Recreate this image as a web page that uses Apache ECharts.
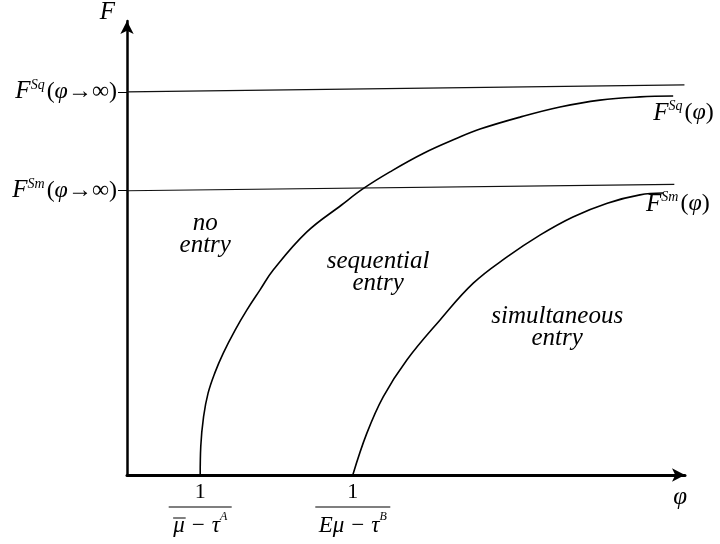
<!DOCTYPE html>
<html>
<head>
<meta charset="utf-8">
<script src="https://cdn.jsdelivr.net/npm/echarts@6/dist/echarts.min.js"></script>
<style>
  html, body { margin: 0; padding: 0; background: #fff; }
  #main { width: 720px; height: 544px; }
</style>
</head>
<body>
<div id="main"></div>
<script>
// values, in axis units (phi along x, F up)
var xTicks = [1.30, 4.01];            // 1/(mu-tau^A), 1/(E mu - tau^B)
var yTicks = [8.33, 6.18];            // F^Sq(phi->inf), F^Sm(phi->inf)
var yTickNames = ['Sq', 'Sm'];
var xTickDen = [['μ', 'A'], ['Eμ', 'B']];

var sqCurve = [
  [1.30, 0], [1.31, 0.62], [1.36, 1.27], [1.44, 1.78], [1.56, 2.22], [1.71, 2.65],
  [1.92, 3.15], [2.13, 3.59], [2.36, 4.02], [2.60, 4.46], [3.19, 5.28], [3.81, 5.87],
  [4.20, 6.23], [4.67, 6.59], [5.26, 6.99], [5.86, 7.32], [6.27, 7.52], [6.98, 7.78],
  [7.69, 8.00], [8.40, 8.15], [9.11, 8.22], [9.70, 8.24]
];
var smCurve = [
  [4.01, 0], [4.26, 0.91], [4.55, 1.70], [4.97, 2.50], [5.56, 3.37], [6.15, 4.17],
  [6.75, 4.74], [7.34, 5.22], [7.92, 5.61], [8.53, 5.91], [9.11, 6.09], [9.52, 6.13]
];
var sqLimit = [[0, 8.33], [9.90, 8.48]];
var smLimit = [[0, 6.18], [9.72, 6.32]];

var regions = [
  [1.39, 5.24, 'no\nentry'],
  [4.46, 4.41, 'sequential\nentry'],
  [7.64, 3.20, 'simultaneous\nentry']
];

var serif = '"Liberation Serif", "DejaVu Serif", serif';

// nearest tick index for a value (customValues formatter)
function tickIndex(list, v) {
  var best = 0;
  for (var k = 1; k < list.length; k++) {
    if (Math.abs(list[k] - v) < Math.abs(list[best] - v)) best = k;
  }
  return best;
}

// widths so the bar over mu lines up with the denominator
var measureCtx = document.createElement('canvas').getContext('2d');
function textWidth(str, font) { measureCtx.font = font; return measureCtx.measureText(str).width; }
var denFont = 'italic 23px "Liberation Serif"';
var supFont = 'italic 12px "Liberation Serif"';
var denW = xTickDen.map(function (d) { return textWidth(d[0] + ' − τ', denFont) + textWidth(d[1], supFont); });
var muW = textWidth('μ', denFont);

var chart = echarts.init(document.getElementById('main'));

var fRich = {
  f: { fontFamily: serif, fontStyle: 'italic', fontSize: 25, color: '#000', lineHeight: 28 },
  sup: { fontFamily: serif, fontStyle: 'italic', fontSize: 14, color: '#000', lineHeight: 28, padding: [0, 2, 13, 0] },
  n: { fontFamily: serif, fontSize: 24, color: '#000', lineHeight: 28 },
  phi: { fontFamily: serif, fontStyle: 'italic', fontSize: 24, color: '#000', lineHeight: 28 }
};

chart.setOption({
  animation: false,
  backgroundColor: '#fff',
  grid: { left: 127, right: 35, top: 21, bottom: 69, outerBoundsMode: 'none' },
  xAxis: {
    type: 'value', min: 0, max: 9.91,
    name: 'φ', nameLocation: 'end', nameGap: 2, nameMoveOverlap: false,
    nameTextStyle: { fontFamily: serif, fontStyle: 'italic', fontSize: 25, color: '#000', align: 'right', verticalAlign: 'top', padding: [10, 0, 0, 0] },
    axisLine: { show: true, onZero: false, symbol: ['none', 'arrow'], symbolSize: [10, 13], lineStyle: { color: '#000', width: 3 } },
    axisTick: { show: false },
    splitLine: { show: false },
    axisLabel: {
      customValues: xTicks, margin: 7,
      formatter: function (v) {
        var i = tickIndex(xTicks, v);
        var d = xTickDen[i];
        var over = i === 0 ? '{ov|}{gap0|}' : '{gap1|}';
        return '{num|1}\n{bar' + i + '|}\n' + over + '\n{den|' + d[0] + ' − τ}{sup|' + d[1] + '}';
      },
      rich: {
        num: { fontFamily: serif, fontSize: 22, color: '#000', lineHeight: 21 },
        bar0: { width: 63, height: 1, lineHeight: 8, backgroundColor: '#000' },
        bar1: { width: 75, height: 1, lineHeight: 8, backgroundColor: '#000' },
        ov: { width: muW + 1, height: 1, lineHeight: 14, backgroundColor: '#000' },
        gap0: { width: denW[0] - muW - 1, height: 1, lineHeight: 14 },
        gap1: { width: denW[1], height: 1, lineHeight: 14 },
        den: { fontFamily: serif, fontStyle: 'italic', fontSize: 23, color: '#000', lineHeight: 1 },
        sup: { fontFamily: serif, fontStyle: 'italic', fontSize: 12, color: '#000', lineHeight: 1, padding: [0, 0, 17, 0] }
      }
    }
  },
  yAxis: {
    type: 'value', min: 0, max: 9.87,
    name: 'F', nameLocation: 'end', nameGap: 9, nameMoveOverlap: false,
    nameTextStyle: { fontFamily: serif, fontStyle: 'italic', fontSize: 25, color: '#000', align: 'right', verticalAlign: 'middle', padding: [0, 12, 0, 0] },
    axisLine: { show: true, onZero: false, symbol: ['none', 'arrow'], symbolSize: [10, 13], lineStyle: { color: '#000', width: 2.5 } },
    axisTick: { show: true, customValues: yTicks, length: 9, lineStyle: { color: '#000', width: 1 } },
    splitLine: { show: false },
    axisLabel: {
      customValues: yTicks, margin: 10,
      formatter: function (v) {
        return '{f|F}{sup|' + yTickNames[tickIndex(yTicks, v)] + '}{n|(}{phi|φ}{n|→∞)}';
      },
      rich: fRich
    }
  },
  series: [
    {
      type: 'line', data: sqLimit, symbol: 'none', silent: true,
      lineStyle: { color: '#111', width: 1.2 }
    },
    {
      type: 'line', data: smLimit, symbol: 'none', silent: true,
      lineStyle: { color: '#111', width: 1.2 }
    },
    {
      type: 'line', data: sqCurve, symbol: 'none', smooth: 0.4,
      lineStyle: { color: '#000', width: 1.6 },
      endLabel: {
        show: true, distance: 0, offset: [-20, 17], align: 'left',
        formatter: '{f|F}{sup|Sq}{n|(}{phi|φ}{n|)}', rich: fRich
      }
    },
    {
      type: 'line', data: smCurve, symbol: 'none', smooth: 0.4,
      lineStyle: { color: '#000', width: 1.6 },
      endLabel: {
        show: true, distance: 0, offset: [-17, 11], align: 'left',
        formatter: '{f|F}{sup|Sm}{n|(}{phi|φ}{n|)}', rich: fRich
      }
    },
    {
      type: 'scatter', symbolSize: 0, silent: true,
      itemStyle: { opacity: 1 },
      data: regions,
      label: {
        show: true, position: 'inside', align: 'center', verticalAlign: 'middle',
        fontFamily: serif, fontStyle: 'italic', fontSize: 25, lineHeight: 22, color: '#000',
        formatter: function (p) { return p.data[2]; }
      }
    }
  ]
});
</script>
</body>
</html>
